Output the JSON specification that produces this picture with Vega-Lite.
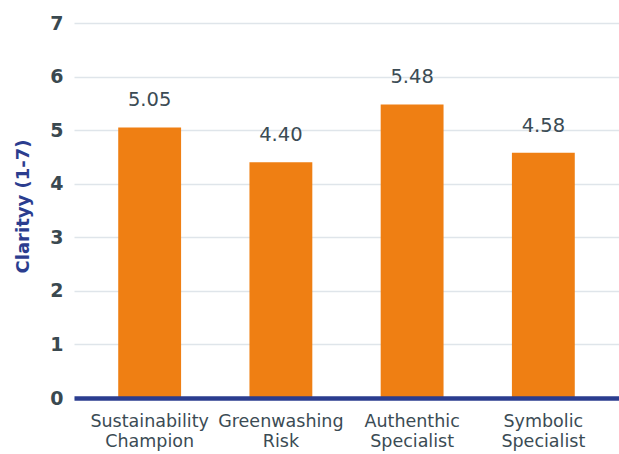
{
  "$schema": "https://vega.github.io/schema/vega-lite/v6.json",
  "width": 545,
  "height": 375,
  "autosize": {"type": "none"},
  "padding": {"left": 74, "top": 23, "right": 0, "bottom": 56},
  "background": "white",
  "config": {
    "view": {"stroke": null},
    "font": "DejaVu Sans"
  },
  "data": {
    "values": [
      {"segment": "Sustainability|Champion", "clarity": 5.05},
      {"segment": "Greenwashing|Risk", "clarity": 4.40},
      {"segment": "Authenthic|Specialist", "clarity": 5.48},
      {"segment": "Symbolic|Specialist", "clarity": 4.58}
    ]
  },
  "encoding": {
    "x": {
      "field": "segment",
      "type": "nominal",
      "sort": null,
      "scale": {"paddingInner": 0.521, "paddingOuter": 0.337},
      "axis": {
        "title": null,
        "labelAngle": 0,
        "labelExpr": "split(datum.value, '|')",
        "labelFont": "DejaVu Sans",
        "labelFontSize": 17.5,
        "labelLineHeight": 20,
        "labelColor": "#3b4b54",
        "labelPadding": 14.5,
        "labelBaseline": "top",
        "ticks": false,
        "domain": true,
        "domainColor": "#2b3d8f",
        "domainWidth": 4.5,
        "zindex": 1
      }
    },
    "y": {
      "field": "clarity",
      "type": "quantitative",
      "scale": {"domain": [0, 7], "nice": false},
      "axis": {
        "title": "Clarityy (1-7)",
        "titleFont": "DejaVu Sans",
        "titleFontSize": 18,
        "titleFontWeight": "bold",
        "titleColor": "#2b3d8f",
        "titleX": -46,
        "titleY": 183,
        "titleBaseline": "alphabetic",
        "values": [0, 1, 2, 3, 4, 5, 6, 7],
        "labelFont": "DejaVu Sans",
        "labelFontSize": 19,
        "labelFontWeight": "bold",
        "labelColor": "#3a4950",
        "labelPadding": 11,
        "ticks": false,
        "domain": false,
        "grid": true,
        "gridColor": "#dfe5ea",
        "gridWidth": 1.3
      }
    }
  },
  "layer": [
    {
      "mark": {"type": "bar", "color": "#ef7f13"}
    },
    {
      "mark": {
        "type": "text",
        "baseline": "bottom",
        "dy": -17,
        "fontSize": 19.5,
        "color": "#3b4b54",
        "font": "DejaVu Sans"
      },
      "encoding": {
        "text": {"field": "clarity", "type": "quantitative", "format": ".2f"}
      }
    }
  ]
}
